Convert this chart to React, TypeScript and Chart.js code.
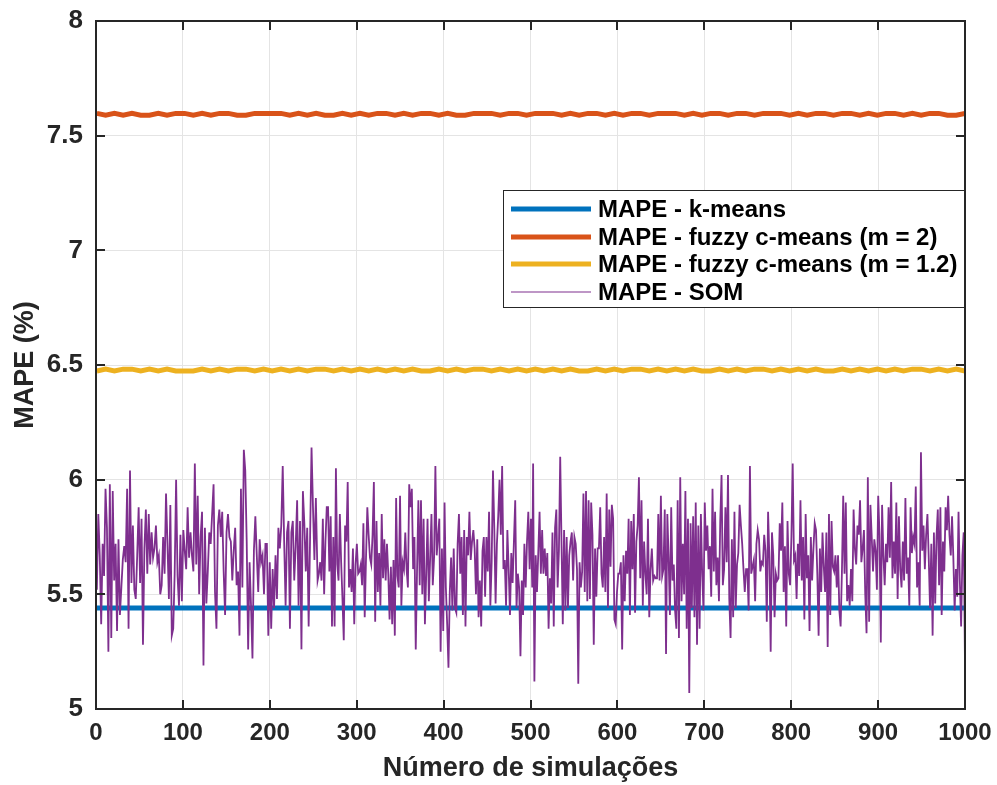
import React, { useEffect, useRef } from "react";
import { Chart, registerables } from "chart.js";

Chart.register(...registerables);

const xTickValues = [0, 100, 200, 300, 400, 500, 600, 700, 800, 900, 1000];
const yTickValues = [5, 5.5, 6, 6.5, 7, 7.5, 8];

const seriesLabels = [
  "MAPE - k-means",
  "MAPE - fuzzy c-means (m = 2)",
  "MAPE - fuzzy c-means (m = 1.2)",
  "MAPE - SOM",
];

const kmeansMape = [5.44, 5.44, 5.44, 5.44, 5.44, 5.44, 5.44, 5.44, 5.44, 5.44, 5.44];

const fcm2Mape = [
  7.597, 7.589, 7.597, 7.589, 7.597, 7.589, 7.589, 7.597, 7.589, 7.597,
  7.597, 7.589, 7.597, 7.589, 7.597, 7.597, 7.589, 7.589, 7.597, 7.597,
  7.597, 7.597, 7.589, 7.597, 7.589, 7.597, 7.589, 7.589, 7.597, 7.589,
  7.597, 7.589, 7.597, 7.597, 7.589, 7.597, 7.589, 7.597, 7.597, 7.589,
  7.597, 7.589, 7.589, 7.597, 7.597, 7.597, 7.589, 7.597, 7.597, 7.589,
  7.597, 7.597, 7.597, 7.589, 7.597, 7.589, 7.597, 7.597, 7.589, 7.597,
  7.589, 7.597, 7.597, 7.589, 7.597, 7.597, 7.597, 7.589, 7.597, 7.589,
  7.597, 7.597, 7.589, 7.597, 7.597, 7.589, 7.597, 7.597, 7.597, 7.589,
  7.597, 7.589, 7.597, 7.597, 7.589, 7.597, 7.597, 7.589, 7.597, 7.589,
  7.597, 7.597, 7.589, 7.597, 7.589, 7.597, 7.597, 7.589, 7.589, 7.597,
];

const fcm12Mape = [
  6.474, 6.482, 6.474, 6.482, 6.482, 6.474, 6.482, 6.474, 6.482, 6.474,
  6.474, 6.474, 6.482, 6.474, 6.482, 6.474, 6.482, 6.482, 6.474, 6.482,
  6.474, 6.482, 6.474, 6.482, 6.474, 6.482, 6.482, 6.474, 6.482, 6.474,
  6.482, 6.474, 6.482, 6.474, 6.482, 6.474, 6.482, 6.474, 6.474, 6.482,
  6.474, 6.482, 6.474, 6.482, 6.482, 6.474, 6.482, 6.474, 6.482, 6.474,
  6.482, 6.474, 6.482, 6.474, 6.482, 6.474, 6.474, 6.482, 6.474, 6.482,
  6.474, 6.482, 6.482, 6.474, 6.482, 6.474, 6.482, 6.474, 6.482, 6.474,
  6.474, 6.482, 6.474, 6.482, 6.474, 6.482, 6.482, 6.474, 6.482, 6.474,
  6.482, 6.474, 6.482, 6.474, 6.474, 6.482, 6.474, 6.482, 6.474, 6.482,
  6.474, 6.482, 6.474, 6.482, 6.482, 6.474, 6.482, 6.474, 6.482, 6.474,
];

// SOM MAPE in four consecutive stretches of simulations
const somPart1 = [
  5.52, 5.85, 5.67, 5.37, 5.72, 5.58, 5.96, 5.79, 5.25, 5.98, 5.31, 5.95, 5.56, 5.72, 5.34, 5.74, 5.41, 5.53, 5.65, 5.71,
  5.64, 5.96, 5.35, 6.04, 5.55, 5.80, 5.52, 5.48, 5.67, 5.88, 5.55, 5.83, 5.28, 5.70, 5.87, 5.59, 5.85, 5.63, 5.77, 5.66,
  5.70, 5.80, 5.64, 5.67, 5.50, 5.54, 5.75, 5.59, 5.94, 5.72, 5.48, 5.89, 5.32, 5.35, 5.59, 6.00, 5.58, 5.45, 5.76, 5.47,
  5.78, 5.69, 5.61, 5.88, 5.66, 5.77, 5.67, 5.60, 6.07, 5.63, 5.93, 5.50, 5.75, 5.86, 5.19, 5.79, 5.46, 5.60, 5.77, 5.72,
  5.85, 5.98, 5.51, 5.35, 5.80, 5.87, 5.75, 5.86, 5.60, 5.41, 5.77, 5.85, 5.75, 5.73, 5.56, 5.69, 5.79, 5.54, 5.60, 5.32,
  5.96, 5.53, 6.13, 6.04, 5.73, 5.26, 5.64, 5.45, 5.22, 5.69, 5.84, 5.67, 5.51, 5.74, 5.64, 5.67, 5.50, 5.72, 5.72, 5.32,
  5.64, 5.35, 5.61, 5.44, 5.67, 5.48, 5.79, 5.70, 5.80, 6.06, 5.73, 5.45, 5.77, 5.82, 5.35, 5.77, 5.82, 5.56, 5.71, 5.91,
  5.45, 5.82, 5.26, 5.95, 5.81, 5.60, 5.79, 5.36, 5.75, 6.14, 5.88, 5.65, 5.92,
];
const somPart2 = [
  5.56, 5.59, 5.64, 5.56, 5.83, 5.50, 5.73, 5.88, 5.88, 5.60, 5.84, 5.36, 5.75, 5.36, 6.05, 5.63, 5.56, 5.85, 5.64, 5.48,
  5.30, 5.80, 5.73, 5.99, 5.53, 5.61, 5.51, 5.70, 5.37, 5.63, 5.72, 5.59, 5.60, 5.63, 5.54, 5.81, 5.40, 5.66, 5.88, 5.76,
  5.66, 5.63, 5.76, 5.99, 5.38, 5.82, 5.51, 5.68, 5.45, 5.85, 5.57, 5.74, 5.56, 5.72, 5.59, 5.39, 5.62, 5.37, 5.65, 5.32,
  5.92, 5.58, 5.53, 5.93, 5.45, 5.64, 5.61, 5.77, 5.61, 5.53, 5.98, 5.88, 5.96, 5.61, 5.75, 5.26, 5.61, 5.91, 5.54, 5.91,
  5.50, 5.83, 5.37, 5.59, 5.83, 5.47, 5.66, 5.85, 5.54, 5.66, 6.06, 5.67, 5.75, 5.83, 5.25, 5.70, 5.34, 5.90, 5.53, 5.37,
  5.18, 5.51, 5.66, 5.43, 5.70, 5.44, 5.42, 5.72, 5.85, 5.59, 5.75, 5.41, 5.78, 5.36, 5.75, 5.67, 5.86, 5.65, 5.73, 5.78,
  5.70, 5.50, 5.74, 5.40, 5.56, 5.36, 5.69, 5.75, 5.49, 5.75, 5.60, 5.86, 5.45, 5.64, 6.04, 5.79, 5.46, 5.72, 5.84, 6.00,
  5.76, 6.06, 5.61, 5.65, 5.45, 5.78, 5.61, 5.41, 5.68, 5.55, 5.73, 5.91, 5.44, 5.59, 5.53, 5.23, 5.56, 5.41, 5.72, 5.53,
  5.73, 5.86, 5.61, 5.83, 5.53,
];
const somPart3 = [
  6.07, 5.12, 5.67, 5.51, 5.68, 5.86, 5.59, 5.78, 5.59, 5.70, 5.58, 5.68, 5.35, 5.57, 5.46, 5.77, 5.36, 5.79, 5.87, 5.53,
  5.69, 6.10, 5.73, 5.37, 5.78, 5.43, 5.75, 5.44, 5.67, 5.73, 5.77, 5.56, 5.75, 5.72, 5.61, 5.11, 5.64, 5.53, 5.60, 5.94,
  5.51, 5.95, 5.47, 5.91, 5.48, 5.90, 5.76, 5.28, 5.70, 5.49, 5.70, 5.70, 5.88, 5.59, 5.53, 5.75, 5.51, 5.94, 5.44, 5.87,
  5.62, 5.89, 5.83, 5.39, 5.37, 5.51, 5.59, 5.59, 5.64, 5.26, 5.67, 5.47, 5.69, 5.59, 5.83, 5.41, 5.82, 5.61, 5.85, 5.42,
  5.73, 5.80, 6.01, 5.57, 5.91, 5.45, 5.73, 5.59, 5.50, 5.83, 5.40, 5.61, 5.70, 5.56, 5.58, 5.57, 5.57, 5.85, 5.56, 5.93,
  5.58, 5.61, 5.87, 5.24, 5.85, 5.66, 5.41, 5.88, 5.56, 5.63, 5.43, 5.35, 5.91, 5.31, 6.01, 5.47, 5.72, 5.50, 5.95, 5.35,
  5.83, 5.07, 5.81, 5.44, 5.84, 5.40, 5.90, 5.28, 5.80, 5.35, 5.85, 5.59, 5.43, 5.90, 5.69, 5.80, 5.61, 5.71, 5.49, 5.96,
  5.60, 5.86, 5.54, 5.66, 5.47, 5.82, 6.02, 5.54, 5.61, 5.88, 5.64, 6.02, 5.48, 5.31, 5.74, 5.40, 5.86, 5.44, 5.63, 5.68,
  5.89, 5.80, 5.72, 5.61, 5.51, 5.61, 5.61, 5.43, 6.06, 5.59,
];
const somPart4 = [
  5.65, 5.47, 5.72, 5.78, 5.74, 5.60, 5.64, 5.63, 5.76, 5.69, 5.38, 5.86, 5.66, 5.25, 5.77, 5.67, 5.40, 5.59, 5.56, 5.57,
  5.81, 5.69, 5.90, 5.51, 5.71, 5.36, 5.82, 5.59, 5.54, 5.75, 6.07, 5.65, 5.67, 5.48, 5.72, 5.58, 5.91, 5.56, 5.75, 5.39,
  5.85, 5.57, 5.67, 5.34, 5.75, 5.56, 5.70, 5.81, 5.78, 5.59, 5.32, 5.70, 5.51, 5.77, 5.62, 5.51, 5.77, 5.27, 5.85, 5.41,
  5.82, 5.62, 5.60, 5.67, 5.53, 5.67, 5.43, 5.36, 5.60, 5.93, 5.59, 5.90, 5.47, 5.54, 5.45, 5.61, 5.47, 5.87, 5.70, 5.63,
  5.80, 5.76, 5.91, 5.64, 5.70, 5.78, 5.50, 5.33, 6.01, 5.38, 5.89, 5.75, 5.60, 5.74, 5.69, 5.52, 5.93, 5.76, 5.29, 5.89,
  5.67, 5.54, 5.72, 5.64, 5.88, 5.66, 5.99, 5.57, 5.73, 5.59, 5.90, 5.48, 5.84, 5.61, 5.53, 5.73, 5.56, 5.92, 5.59, 5.66,
  5.45, 5.88, 5.68, 5.75, 5.72, 5.97, 5.53, 5.64, 5.45, 6.12, 5.69, 5.80, 5.61, 5.76, 5.85, 5.66, 5.44, 5.72, 5.32, 5.77,
  5.46, 5.75, 5.87, 5.54, 5.88, 5.41, 5.73, 5.60, 5.88, 5.78, 5.93, 5.76, 5.67, 5.84, 5.66, 5.43, 5.61, 5.49, 5.86, 5.56,
  5.36, 5.67, 5.77, 5.19,
];
// simulation span covered by each stretch
const somSpans = [
  [1, 253],
  [255, 502],
  [503, 754],
  [757, 1000],
];
const somParts = [somPart1, somPart2, somPart3, somPart4];

const colors = ["#0072BD", "#D95319", "#EDB120", "#7E2F8E"];
const lineWidths = [5, 5, 5, 1.8];

const FONT = "'Liberation Sans', Arial, Helvetica, sans-serif";
const TEXT = "#262626";

function spread(values: number[], start: number, end: number) {
  const n = values.length;
  return values.map((v, i) => ({ x: n > 1 ? start + ((end - start) * i) / (n - 1) : start, y: v }));
}

const framePlugin = {
  id: "matlabFrame",
  afterDatasetsDraw(chart: any) {
    const { ctx, chartArea: a, scales } = chart;
    ctx.save();
    ctx.strokeStyle = TEXT;
    ctx.lineWidth = 2;
    const tl = 9;
    ctx.beginPath();
    xTickValues.forEach((v) => {
      const px = Math.round(scales.x.getPixelForValue(v));
      if (px <= a.left + 1 || px >= a.right - 1) return;
      ctx.moveTo(px, a.bottom);
      ctx.lineTo(px, a.bottom - tl);
      ctx.moveTo(px, a.top);
      ctx.lineTo(px, a.top + tl);
    });
    yTickValues.forEach((v) => {
      const py = Math.round(scales.y.getPixelForValue(v));
      if (py <= a.top + 1 || py >= a.bottom - 1) return;
      ctx.moveTo(a.left, py);
      ctx.lineTo(a.left + tl, py);
      ctx.moveTo(a.right, py);
      ctx.lineTo(a.right - tl, py);
    });
    ctx.stroke();
    ctx.strokeRect(a.left, a.top, a.right - a.left, a.bottom - a.top);
    ctx.restore();
  },
  afterDraw(chart: any) {
    const { ctx, chartArea: a } = chart;
    const boxRight = a.right;
    const boxLeft = 503;
    const boxTop = 190;
    const boxBottom = 308;
    ctx.save();
    ctx.fillStyle = "#ffffff";
    ctx.fillRect(boxLeft, boxTop, boxRight - boxLeft, boxBottom - boxTop);
    ctx.strokeStyle = TEXT;
    ctx.lineWidth = 1;
    ctx.strokeRect(boxLeft + 0.5, boxTop + 0.5, boxRight - boxLeft - 1, boxBottom - boxTop - 1);
    ctx.font = `bold 24px ${FONT}`;
    ctx.textBaseline = "middle";
    ctx.textAlign = "left";
    const rows = [209, 237, 264, 292];
    chart.data.datasets.forEach((ds: any, i: number) => {
      const y = rows[i];
      ctx.strokeStyle = ds.borderColor;
      ctx.lineWidth = i === 3 ? 1.2 : ds.borderWidth;
      ctx.beginPath();
      ctx.moveTo(511, y);
      ctx.lineTo(591, y);
      ctx.stroke();
      ctx.fillStyle = "#000000";
      ctx.fillText(ds.label, 598, y + 1);
    });
    ctx.restore();
  },
};

export default function App() {
  const canvasRef = useRef<HTMLCanvasElement | null>(null);

  useEffect(() => {
    document.body.style.margin = "0";
    const canvas = canvasRef.current;
    if (!canvas) return;

    const somPoints = somParts.flatMap((part, i) => spread(part, somSpans[i][0], somSpans[i][1]));

    const datasets = [
      { label: seriesLabels[0], data: spread(kmeansMape, 1, 1000), order: 3 },
      { label: seriesLabels[1], data: spread(fcm2Mape, 1, 1000), order: 2 },
      { label: seriesLabels[2], data: spread(fcm12Mape, 1, 1000), order: 1 },
      { label: seriesLabels[3], data: somPoints, order: 0 },
    ].map((d, i) => ({
      ...d,
      borderColor: colors[i],
      backgroundColor: colors[i],
      borderWidth: lineWidths[i],
      pointRadius: 0,
      tension: 0,
      fill: false,
    }));

    const xTickFont = { family: FONT, size: 24, weight: "bold" as const };
    const yTickFont = { family: FONT, size: 26, weight: "bold" as const };
    const titleFont = { family: FONT, size: 27, weight: "bold" as const };

    const zeroPad = (s: any) => {
      s.paddingTop = 0;
      s.paddingBottom = 0;
      s.paddingLeft = 0;
      s.paddingRight = 0;
    };

    const chart = new Chart(canvas, {
      type: "line",
      data: { datasets },
      options: {
        responsive: false,
        animation: false,
        devicePixelRatio: 1,
        layout: { padding: { top: 21, right: 32, left: 0, bottom: 0 } },
        plugins: { legend: { display: false }, tooltip: { enabled: false } },
        scales: {
          x: {
            type: "linear",
            min: 0,
            max: 1000,
            afterBuildTicks: (s: any) => {
              s.ticks = xTickValues.map((v) => ({ value: v }));
            },
            afterFit: (s: any) => {
              s.height = 76;
              zeroPad(s);
            },
            ticks: {
              font: xTickFont,
              color: TEXT,
              padding: 10,
              maxRotation: 0,
              autoSkip: false,
              callback: (v: any) => String(v),
            },
            grid: { color: "#e4e4e4", lineWidth: 1, drawTicks: false },
            border: { display: false },
            title: {
              display: true,
              text: "Número de simulações",
              font: titleFont,
              color: TEXT,
              padding: { top: 0, bottom: 0 },
            },
          },
          y: {
            type: "linear",
            min: 5,
            max: 8,
            afterBuildTicks: (s: any) => {
              s.ticks = yTickValues.map((v) => ({ value: v }));
            },
            afterFit: (s: any) => {
              s.width = 96;
              zeroPad(s);
            },
            ticks: {
              font: yTickFont,
              color: TEXT,
              padding: 13,
              autoSkip: false,
              callback: (v: any) => String(v),
            },
            grid: { color: "#e4e4e4", lineWidth: 1, drawTicks: false },
            border: { display: false },
            title: {
              display: true,
              text: "MAPE (%)",
              font: titleFont,
              color: TEXT,
              padding: { top: 9, bottom: 0 },
            },
          },
        },
      },
      plugins: [framePlugin],
    } as any);

    return () => chart.destroy();
  }, []);

  return (
    <div style={{ position: "absolute", left: 0, top: 0, width: 997, height: 785, background: "#fff" }}>
      <canvas ref={canvasRef} width={997} height={785} style={{ display: "block" }} />
    </div>
  );
}
